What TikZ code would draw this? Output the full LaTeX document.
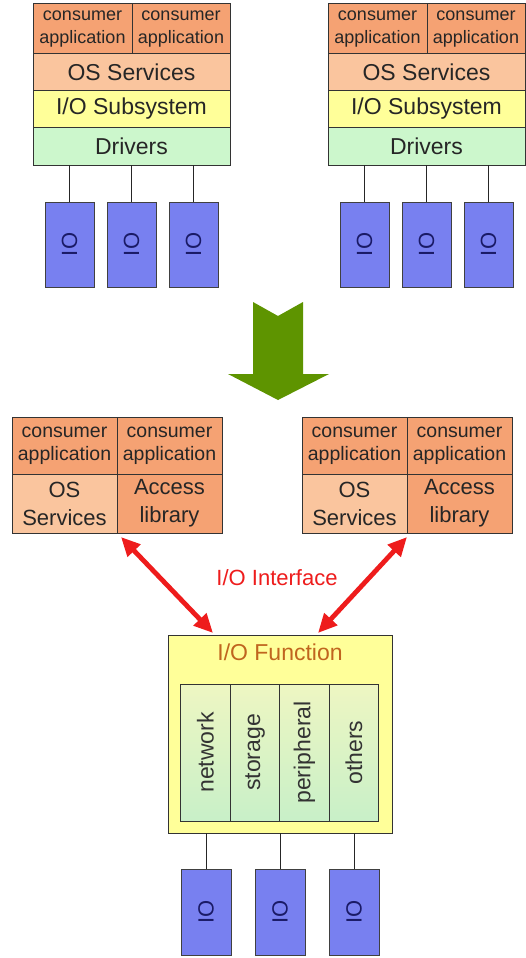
\documentclass[tikz,border=0pt]{standalone}
\usepackage{fontspec}
\setmainfont{Liberation Sans}
\usetikzlibrary{arrows.meta,calc}
\definecolor{appc}{HTML}{F5A273}
\definecolor{osc}{HTML}{FAC59E}
\definecolor{ioc}{HTML}{FFFF99}
\definecolor{drvc}{HTML}{CCF7CC}
\definecolor{devc}{HTML}{7880F0}
\definecolor{devt}{HTML}{1A1A66}
\definecolor{arrowgreen}{HTML}{5E9400}
\definecolor{ifred}{HTML}{EE1C1C}
\definecolor{funcc}{HTML}{C0651E}
\definecolor{colt}{HTML}{EEF6C2}
\definecolor{colb}{HTML}{C8F0C8}
\newcommand\fsz[2]{\fontsize{#1}{#2}\selectfont}
\begin{document}
\begin{tikzpicture}[x=1pt,y=-1pt,
  cell/.style={draw=black!80, line width=1pt, inner sep=0pt, outer sep=0pt, align=center, text=black!85},
  appcell/.style={cell, fill=appc, font=\fsz{18}{23}},
  bigcell/.style={cell, font=\fsz{23}{28}},
  dev/.style={draw=black!75, line width=1pt, fill=devc, inner sep=0pt, outer sep=0pt, minimum width=49, minimum height=85, text=devt, font=\fsz{22}{26}},
  wire/.style={draw=black!85, line width=1pt},
  ifarrow/.style={draw=ifred, line width=4.8pt, {Triangle[length=19pt,width=17pt]}-{Triangle[length=19pt,width=17pt]}},
  colcell/.style={cell, top color=colt, bottom color=colb, minimum width=49.5, minimum height=137, font=\fsz{23}{28}, text=black!80}
]
\useasboundingbox (0,0) rectangle (526,958);
\fill[white] (0,0) rectangle (526,958);

% ---------- top stacks ----------
\foreach \s/\o in {L/0,R/295} {
  \begin{scope}[xshift=\o]
    \node[appcell, minimum width=99, minimum height=50] (caA\s) at (82.5,29) {consumer\\application};
    \node[appcell, minimum width=98, minimum height=50] (caB\s) at (181,29) {consumer\\application};
    \node[bigcell, fill=osc, minimum width=197, minimum height=36] (os\s) at (131.5,72) {OS Services};
    \node[bigcell, fill=ioc, minimum width=197, minimum height=37] (iosub\s) at (131.5,108.5) {I/O Subsystem};
    \node[bigcell, fill=drvc, minimum width=197, minimum height=38] (drv\s) at (131.5,146) {Drivers};
    \foreach \i/\x in {1/69.5,2/131.5,3/193.5} {
      \node[dev] (dev\i\s) at (\x,244.5) {\rotatebox{90}{IO}};
      \draw[wire] (drv\s.south -| dev\i\s) -- (dev\i\s.north);
    }
  \end{scope}
}

% ---------- green arrow ----------
\fill[arrowgreen] (253,302) -- (278,316) -- (303,302) -- (303,374) -- (329,374) -- (278,400) -- (228,374) -- (253,374) -- cycle;

% ---------- middle stacks ----------
\foreach \s/\o in {L/0,R/290} {
  \begin{scope}[xshift=\o]
    \node[cell, fill=appc, font=\fsz{19.5}{23}, minimum width=105, minimum height=57] (mcaA\s) at (64.5,445.5) {consumer\\application};
    \node[cell, fill=appc, font=\fsz{19.5}{23}, minimum width=105, minimum height=57] (mcaB\s) at (169.5,445.5) {consumer\\application};
    \node[cell, fill=osc, font=\fsz{22}{28}, minimum width=105, minimum height=59] (mos\s) at (64.5,503.5) {OS\\Services};
    \node[cell, fill=appc, font=\fsz{22}{28}, minimum width=105, minimum height=59] (mlib\s) at (169.5,503.5) {Access\\library};
  \end{scope}
}

% ---------- I/O Function ----------
\node[cell, fill=ioc, minimum width=224, minimum height=198] (iof) at (280,734) {};
\node[text=funcc, font=\fsz{23}{28}, inner sep=0pt] (ioft) at (280,652) {I/O Function};
\node[colcell] (c1) at (205.5,752.5) {\rotatebox{90}{network}};
\node[colcell] (c2) at (255,752.5) {\rotatebox{90}{storage}};
\node[colcell] (c3) at (304.5,752.5) {\rotatebox{90}{peripheral}};
\node[colcell] (c4) at (354,752.5) {\rotatebox{90}{others}};

\foreach \i/\x in {1/206,2/280,3/354} {
  \node[dev, minimum width=50, minimum height=86] (bdev\i) at (\x,912) {\rotatebox{90}{IO}};
  \draw[wire] (iof.south -| bdev\i) -- (bdev\i.north);
}

% ---------- interface arrows ----------
\draw[ifarrow] ($(mlibL.south west)+(4,4)$) -- ($(iof.north west)+(45,-2)$);
\draw[ifarrow] ($(mlibR.south west)+(0,4)$) -- ($(iof.north west)+(150,-2)$);
\node[text=ifred, font=\fsz{22}{26}, inner sep=0pt] (ifl) at (277,578) {I/O Interface};
\end{tikzpicture}
\end{document}
